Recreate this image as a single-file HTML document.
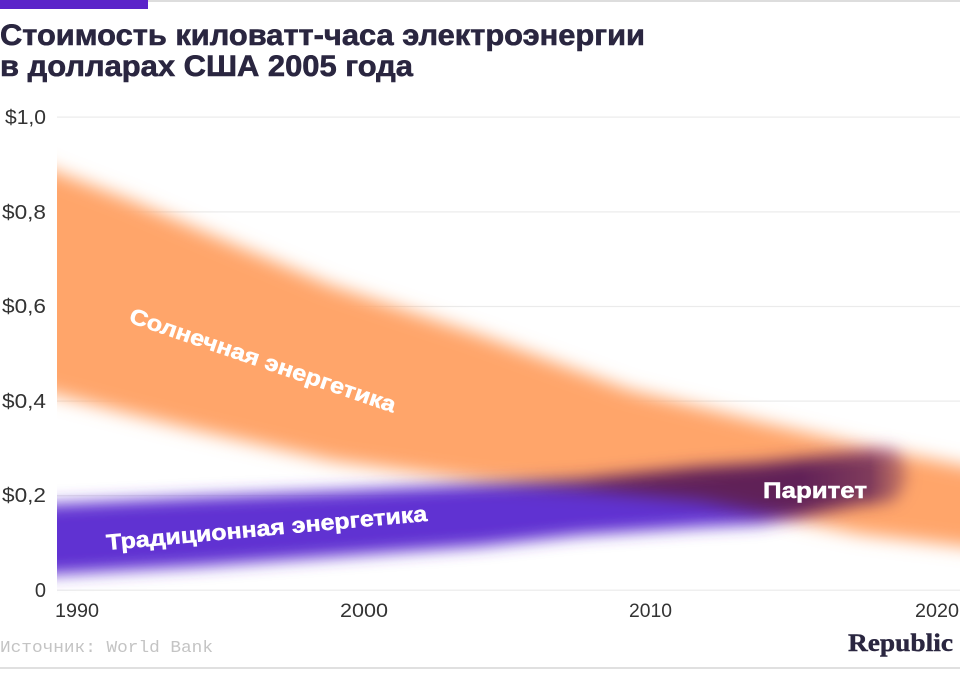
<!DOCTYPE html>
<html>
<head>
<meta charset="utf-8">
<style>
  html, body { margin: 0; padding: 0; background: #ffffff; }
  body { width: 960px; height: 675px; overflow: hidden; }
  svg { display: block; }
  .t { font-family: "Liberation Sans", "Noto Sans CJK SC", sans-serif; }
</style>
</head>
<body>
<svg width="960" height="675" viewBox="0 0 960 675" xmlns="http://www.w3.org/2000/svg">
  <defs>
    <filter id="blurO" filterUnits="userSpaceOnUse" x="-100" y="0" width="1200" height="800">
      <feGaussianBlur stdDeviation="9"/>
    </filter>
    <filter id="blurP" filterUnits="userSpaceOnUse" x="-100" y="0" width="1200" height="800">
      <feGaussianBlur stdDeviation="8"/>
    </filter>
    <clipPath id="plot">
      <rect x="57" y="100" width="903" height="500"/>
    </clipPath>
    <linearGradient id="fadeR" gradientUnits="userSpaceOnUse" x1="800" y1="0" x2="928" y2="0">
      <stop offset="0" stop-color="#fff" stop-opacity="1"/>
      <stop offset="0.55" stop-color="#fff" stop-opacity="0.8"/>
      <stop offset="1" stop-color="#fff" stop-opacity="0"/>
    </linearGradient>
    <mask id="maskP" maskUnits="userSpaceOnUse" x="0" y="0" width="960" height="675">
      <rect x="0" y="0" width="960" height="675" fill="url(#fadeR)"/>
    </mask>
  </defs>

  <rect x="0" y="0" width="960" height="675" fill="#ffffff"/>

  <!-- top bar -->
  <rect x="0" y="0" width="148" height="9" fill="#5b24c9"/>
  <rect x="148" y="0" width="812" height="2" fill="#dddddd"/>

  <!-- title -->
  <g class="t" font-size="30" font-weight="bold" fill="#2a2640" stroke="#2a2640" stroke-width="0.6">
    <text x="0" y="45" textLength="645" lengthAdjust="spacingAndGlyphs">Стоимость киловатт-часа электроэнергии</text>
    <text x="0" y="76" textLength="413" lengthAdjust="spacingAndGlyphs">в долларах США 2005 года</text>
  </g>

  <!-- gridlines -->
  <g fill="#ebebeb">
    <rect x="57" y="116.5" width="903" height="1.2"/>
    <rect x="57" y="211.3" width="903" height="1.2"/>
    <rect x="57" y="305.9" width="903" height="1.2"/>
    <rect x="57" y="400.5" width="903" height="1.2"/>
    <rect x="57" y="495.1" width="903" height="1.2"/>
    <rect x="57" y="589.6" width="903" height="1.2"/>
  </g>

  <!-- bands -->
  <g clip-path="url(#plot)">
    <g style="mix-blend-mode:multiply">
      <path filter="url(#blurO)" fill="#ffa56b"
        d="M20,156 L57,172 L130,200 L200,230 L330,285 L480,335 L630,390 L760,422 L860,445 L960,465 L1020,476
           L1020,552 L960,546 L860,534 L760,513 L700,501 L580,489 L480,481 L333,461 L200,431 L130,414 L57,395 L20,386 Z"/>
    </g>
    <g style="mix-blend-mode:multiply" mask="url(#maskP)">
      <path filter="url(#blurP)" fill="#6030d2"
        d="M20,506 L57,504 L200,497 L340,491 L480,484 L580,479 L700,467 L760,463 L860,452 L895,449
           Q925,474 895,501 L860,505 L760,524 L700,527 L580,535 L480,546 L340,556 L200,566 L57,574 L20,576 Z"/>
    </g>
  </g>

  <!-- band labels -->
  <g class="t" font-size="22" font-weight="bold" fill="#ffffff" stroke="#ffffff" stroke-width="0.5">
    <text transform="translate(128,322) rotate(18.9)" textLength="280" lengthAdjust="spacingAndGlyphs">Солнечная энергетика</text>
    <text transform="translate(107,550) rotate(-5.2)" textLength="322" lengthAdjust="spacingAndGlyphs">Традиционная энергетика</text>
    <text x="763" y="498" textLength="104" lengthAdjust="spacingAndGlyphs">Паритет</text>
  </g>

  <!-- y axis labels -->
  <g class="t" font-size="20" fill="#333333" text-anchor="end">
    <text x="46" y="124" textLength="41" lengthAdjust="spacingAndGlyphs">$1,0</text>
    <text x="46" y="219" textLength="44" lengthAdjust="spacingAndGlyphs">$0,8</text>
    <text x="46" y="313" textLength="44" lengthAdjust="spacingAndGlyphs">$0,6</text>
    <text x="46" y="408" textLength="44" lengthAdjust="spacingAndGlyphs">$0,4</text>
    <text x="46" y="502" textLength="44" lengthAdjust="spacingAndGlyphs">$0,2</text>
    <text x="46" y="597">0</text>
  </g>

  <!-- x axis labels -->
  <g class="t" font-size="19" fill="#333333">
    <text x="55" y="617" textLength="44" lengthAdjust="spacingAndGlyphs">1990</text>
    <text x="340" y="617" textLength="48" lengthAdjust="spacingAndGlyphs">2000</text>
    <text x="629" y="617" textLength="43" lengthAdjust="spacingAndGlyphs">2010</text>
    <text x="915" y="617" textLength="44" lengthAdjust="spacingAndGlyphs">2020</text>
  </g>

  <!-- source -->
  <text x="0" y="652" font-family="'Liberation Mono', monospace" font-size="17" fill="#c4c4c4" textLength="213" lengthAdjust="spacingAndGlyphs">Источник: World Bank</text>

  <!-- logo -->
  <text x="848" y="651" font-family="'Liberation Serif', serif" font-size="25" font-weight="bold" fill="#2a2640" stroke="#2a2640" stroke-width="0.4" textLength="105" lengthAdjust="spacingAndGlyphs">Republic</text>

  <!-- bottom line -->
  <rect x="0" y="667" width="960" height="2" fill="#e0e0e0"/>
</svg>
</body>
</html>
